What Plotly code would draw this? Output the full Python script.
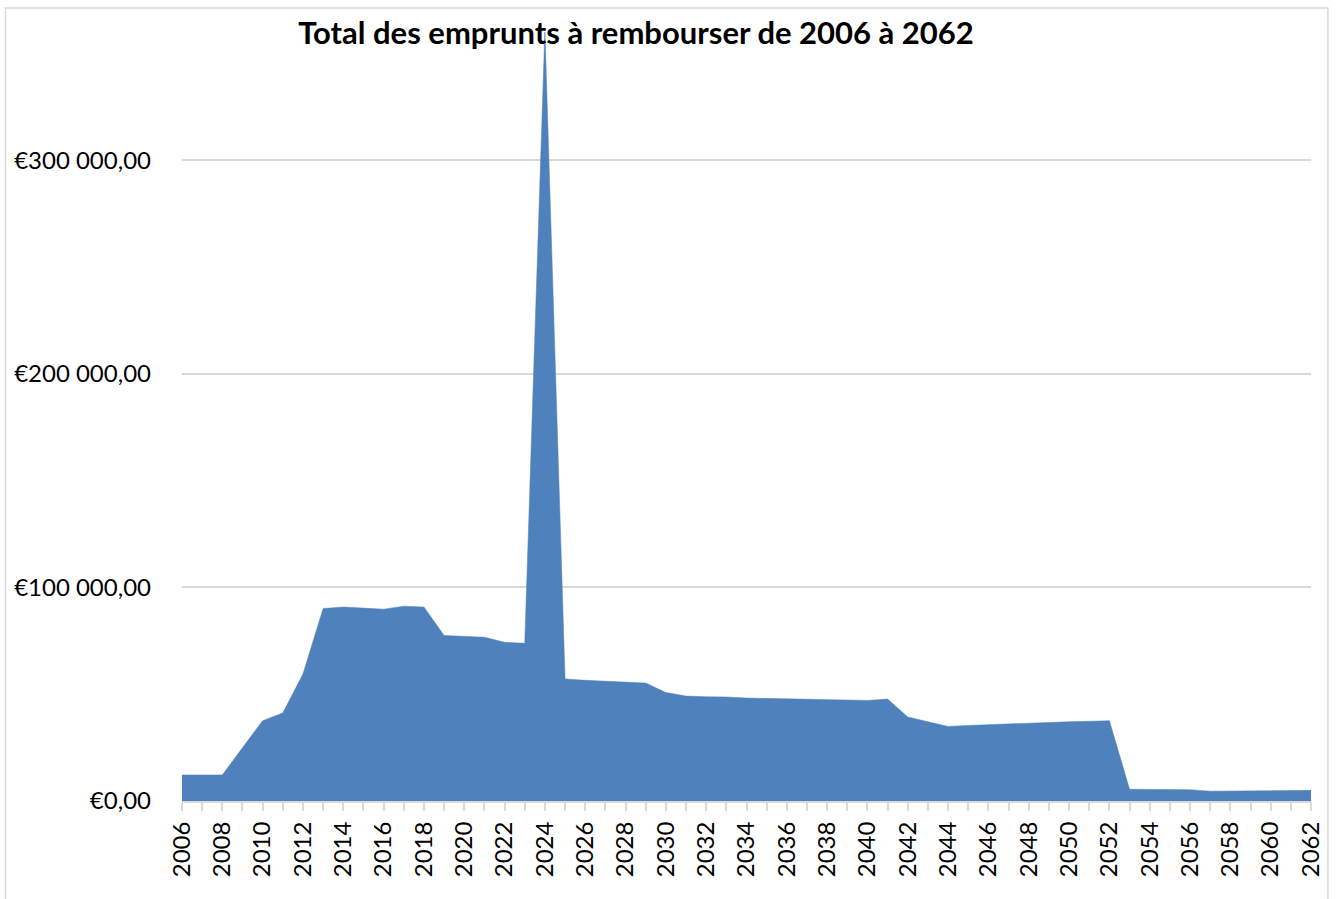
import plotly.graph_objects as go

years = list(range(2006, 2063))
montants = [
    # 2006-2024
    12200, 12200, 12200, 24900, 37600, 41200, 59500, 90100, 90800, 90300,
    89800, 91200, 90800, 77500, 77100, 76700, 74300, 73800, 361000,
    # 2025-2033
    57100, 56500, 56000, 55700, 55200, 50800, 49100, 48800, 48700,
    # 2034-2041
    48200, 48000, 47900, 47700, 47600, 47300, 47100, 47700,
    # 2042-2052
    39300, 37100, 34900, 35400, 35800, 36100, 36500, 36800, 37100, 37300, 37600,
    # 2053-2062
    5500, 5500, 5500, 5300, 4600, 4600, 4700, 4800, 4900, 5000,
]
y_tickvals = [0, 100000, 200000, 300000]
y_ticktext = ["€0,00", "€100 000,00", "€200 000,00", "€300 000,00"]
x_ticktext = [str(y) if (y - 2006) % 2 == 0 else "" for y in years]
title_text = "Total des emprunts à rembourser de 2006 à 2062"

W, H = 1336, 899
L, R, T, B = 182, 22, 32, 98

fig = go.Figure()
fig.add_trace(go.Scatter(
    x=years, y=montants, mode="lines", fill="tozeroy",
    line=dict(color="#4f81bd", width=0.5), fillcolor="#4f81bd",
    hoverinfo="x+y", showlegend=False,
))

def px_x(p):
    return (p - L) / (W - L - R)

def px_y(p):
    return (H - B - p) / (H - T - B)

# outer chart border
fig.add_shape(type="rect", xref="paper", yref="paper",
              x0=px_x(5), x1=px_x(1331), y0=px_y(910), y1=px_y(8),
              line=dict(color="#d9d9d9", width=1.5), layer="below")

fig.update_layout(
    width=W, height=H,
    margin=dict(l=L, r=R, t=T, b=B),
    paper_bgcolor="white", plot_bgcolor="white",
    title=dict(text="<b>" + title_text + "</b>", x=0.476, xanchor="center",
               xref="container", yref="container", y=1 - 33 / H, yanchor="middle",
               font=dict(family="Lato", size=31, color="black")),
    font=dict(family="Lato", color="black"),
)
fig.update_xaxes(
    range=[2006, 2062], tickmode="array", tickvals=years, ticktext=x_ticktext,
    tickangle=-90, ticks="outside", ticklen=8, tickwidth=2, tickcolor="#d9d9d9",
    showline=True, linecolor="#d9d9d9", linewidth=2, showgrid=False, zeroline=False,
    tickfont=dict(family="Lato", size=24, color="black"), ticklabelstandoff=1,
)
fig.update_yaxes(
    range=[0, 360000], tickmode="array", tickvals=y_tickvals, ticktext=y_ticktext,
    showgrid=True, gridcolor="#d9d9d9", gridwidth=1.5, zeroline=False, showline=False,
    tickfont=dict(family="Lato", size=24, color="black"), ticklabelstandoff=30,
)

fig.write_html("out.html", config={"displayModeBar": False},
               post_script="document.body.style.margin='0';document.body.style.overflow='hidden';")
